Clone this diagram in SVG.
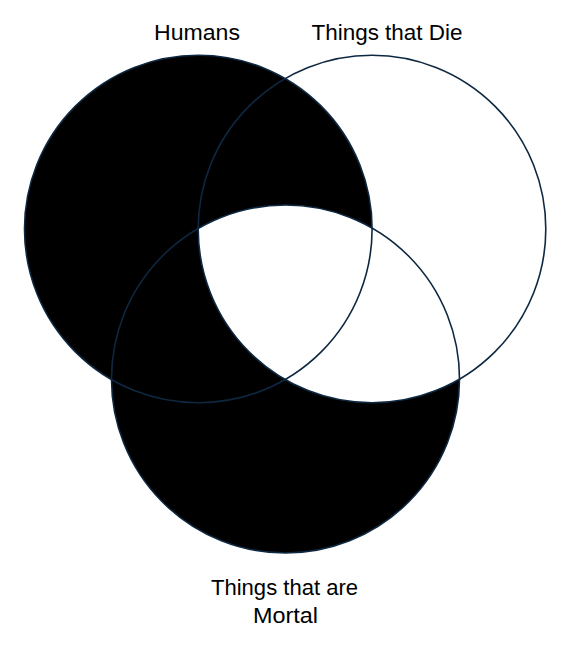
<svg xmlns="http://www.w3.org/2000/svg" width="565" height="649" viewBox="0 0 565 649">
  <style>
    .fill { fill: #000000; stroke: none; }
    .hole { fill: #ffffff; stroke: none; }
    .ring { fill: none; stroke: #0e2841; stroke-width: 1.6; }
    .label { font-family: "Liberation Sans", "Noto Sans", Arial, sans-serif; font-size: 22px; fill: #000000; text-anchor: middle; }
  </style>
  <defs>
    <clipPath id="clipMortal">
      <circle cx="285.5" cy="379" r="174"/>
    </clipPath>
  </defs>
  <rect x="0" y="0" width="565" height="649" fill="#ffffff"/>
  <g id="shading">
    <circle class="fill" cx="198.3" cy="229" r="173.8"/>
    <circle class="fill" cx="285.5" cy="379" r="174"/>
    <circle class="hole" cx="372" cy="229" r="173.8" clip-path="url(#clipMortal)"/>
  </g>
  <g id="humans">
    <circle class="ring" cx="198.3" cy="229" r="173.8"/>
    <text class="label" x="197" y="40" textLength="86" lengthAdjust="spacingAndGlyphs">Humans</text>
  </g>
  <g id="things-that-die">
    <circle class="ring" cx="372" cy="229" r="173.8"/>
    <text class="label" x="387" y="40" textLength="151" lengthAdjust="spacingAndGlyphs">Things that Die</text>
  </g>
  <g id="things-that-are-mortal">
    <circle class="ring" cx="285.5" cy="379" r="174"/>
    <text class="label" x="284.5" y="595" textLength="147" lengthAdjust="spacingAndGlyphs">Things that are</text>
    <text class="label" x="285.5" y="623" textLength="65" lengthAdjust="spacingAndGlyphs">Mortal</text>
  </g>
</svg>
